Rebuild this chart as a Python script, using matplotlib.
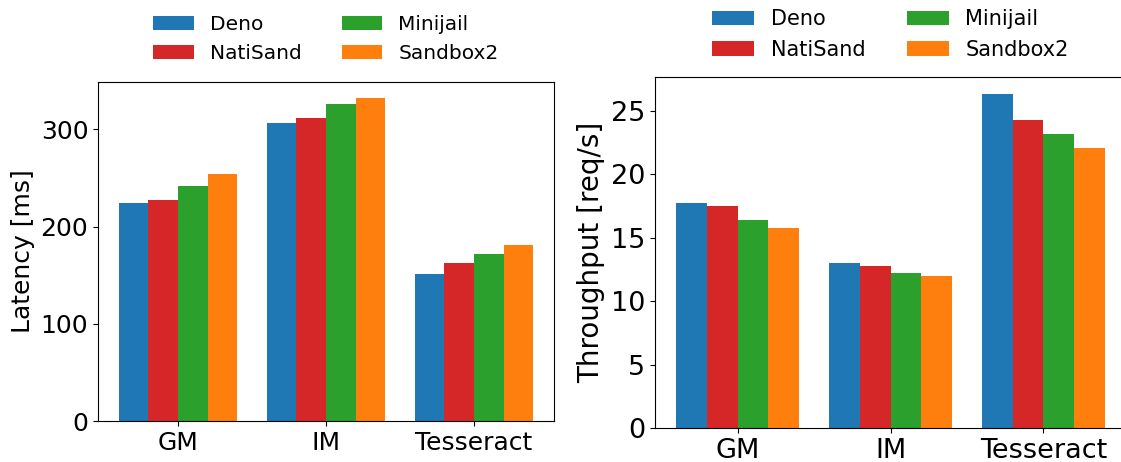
import numpy as np
import matplotlib
matplotlib.use("Agg")
import matplotlib.pyplot as plt

# workloads and sandboxes
apps = ['GM', 'IM', 'Tesseract']
systems = ['Deno', 'NatiSand', 'Minijail', 'Sandbox2']
colors = ['tab:blue', 'tab:red', 'tab:green', 'tab:orange']

# latency [ms], one list per system (GM, IM, Tesseract)
lat_deno = [224, 306, 151]
lat_natisand = [227, 312, 163]
lat_minijail = [242, 326, 172]
lat_sandbox2 = [254, 332, 181]

# throughput [req/s]
thr_deno = [17.75, 13.0, 26.35]
thr_natisand = [17.5, 12.75, 24.3]
thr_minijail = [16.4, 12.2, 23.2]
thr_sandbox2 = [15.75, 11.95, 22.1]


def grouped_bars(ax, series, ylabel, tick_fs, label_fs, legend_fs, leg_y):
    x = np.arange(len(apps))
    width = 0.2
    for i, (vals, name, c) in enumerate(zip(series, systems, colors)):
        ax.bar(x + (i - 1.5) * width, vals, width, label=name, color=c)
    ax.set_xticks(x)
    ax.set_xticklabels(apps)
    ax.tick_params(labelsize=tick_fs)
    ax.set_ylabel(ylabel, fontsize=label_fs)
    ax.legend(loc='lower center', bbox_to_anchor=(0.5, leg_y), ncol=2,
              frameon=False, fontsize=legend_fs)


fig = plt.figure(figsize=(11.21, 4.62), dpi=100)
ax1 = fig.add_axes([0.0874, 0.0887, 0.4068, 0.7338])
ax2 = fig.add_axes([0.5843, 0.0736, 0.4202, 0.7597])

grouped_bars(ax1, [lat_deno, lat_natisand, lat_minijail, lat_sandbox2],
             'Latency [ms]', 18, 18, 14.5, 1.003)
grouped_bars(ax2, [thr_deno, thr_natisand, thr_minijail, thr_sandbox2],
             'Throughput [req/s]', 19.5, 20, 15, 0.996)

fig.savefig('out.png', dpi=100)
